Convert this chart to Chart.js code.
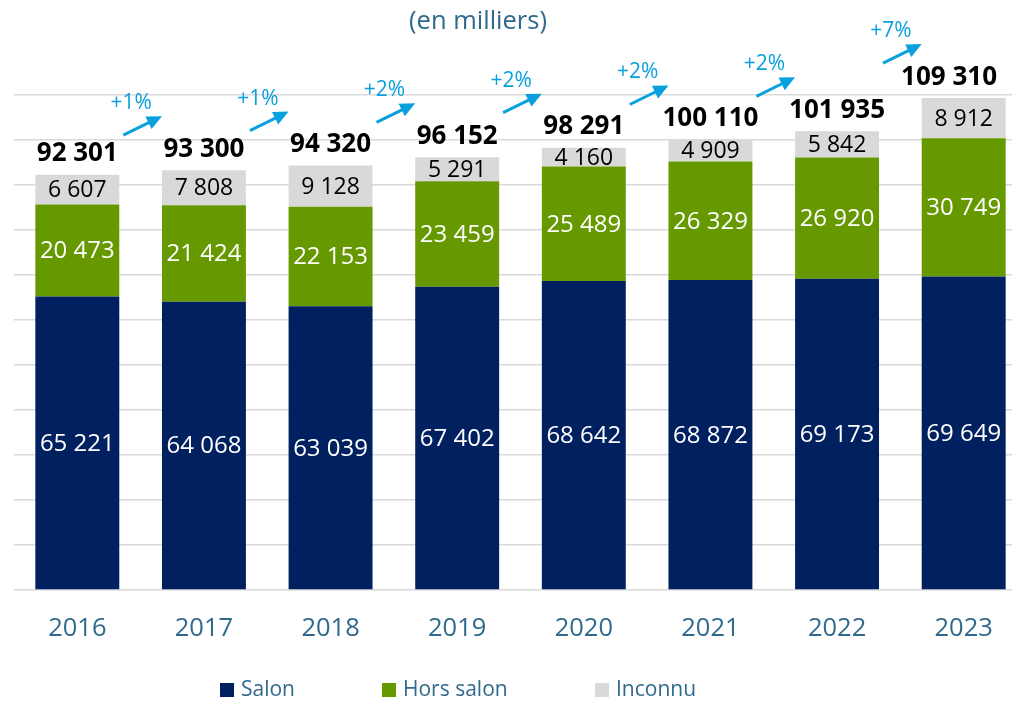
<!DOCTYPE html>
<html>
<head>
<meta charset="utf-8">
<script src="https://cdn.jsdelivr.net/npm/chart.js@4.4.1/dist/chart.umd.min.js"></script>
<style>
  html, body { margin: 0; padding: 0; background: #ffffff; overflow: hidden; }
  #wrap { width: 1027px; height: 702px; position: relative; }
</style>
</head>
<body>
<div id="wrap"><canvas id="c"></canvas></div>
<script>
// ---- Data ----
const years = ['2016', '2017', '2018', '2019', '2020', '2021', '2022', '2023'];
const salon = [65221, 64068, 63039, 67402, 68642, 68872, 69173, 69649];
const horsSalon = [20473, 21424, 22153, 23459, 25489, 26329, 26920, 30749];
const inconnu = [6607, 7808, 9128, 5291, 4160, 4909, 5842, 8912];
const totals = [92301, 93300, 94320, 96152, 98291, 100110, 101935, 109310];
const growth = ['+1%', '+1%', '+2%', '+2%', '+2%', '+2%', '+7%'];
const seriesNames = ['Salon', 'Hors salon', 'Inconnu'];
const titleText = '(en milliers)';

// ---- Styles ----
const COLORS = ['#002060', '#669900', '#d9d9d9'];
const LABEL_COLORS = ['#ffffff', '#ffffff', '#000000'];
const LABEL_SIZES = [24, 24, 23];
const TEXT_BLUE = '#2f6a8c';
const ARROW_BLUE = '#0aa0de';
const FONT = "'Open Sans', 'DejaVu Sans', sans-serif";

const fmt = n => String(n).replace(/\B(?=(\d{3})+(?!\d))/g, ' ');

const overlayPlugin = {
  id: 'overlay',
  afterDatasetsDraw(chart) {
    const ctx = chart.ctx;
    const yScale = chart.scales.y;
    ctx.save();
    ctx.textAlign = 'center';
    ctx.textBaseline = 'middle';

    // segment labels
    chart.data.datasets.forEach((ds, di) => {
      const meta = chart.getDatasetMeta(di);
      ctx.fillStyle = LABEL_COLORS[di];
      ctx.font = LABEL_SIZES[di] + "px " + FONT;
      meta.data.forEach((bar, i) => {
        const cy = (bar.y + bar.base) / 2;
        ctx.fillText(fmt(ds.data[i]), bar.x, cy + 1);
      });
    });

    // totals
    const topMeta = chart.getDatasetMeta(chart.data.datasets.length - 1);
    ctx.fillStyle = '#000000';
    ctx.font = "bold 26px " + FONT;
    const maxRight = 997;
    totals.forEach((t, i) => {
      const bar = topMeta.data[i];
      const txt = fmt(t);
      const w = ctx.measureText(txt).width;
      let cx = bar.x;
      if (cx + w / 2 > maxRight) cx = maxRight - w / 2;
      ctx.fillText(txt, cx, yScale.getPixelForValue(t) - 21);
    });

    // growth arrows
    ctx.strokeStyle = ARROW_BLUE;
    ctx.fillStyle = ARROW_BLUE;
    ctx.lineWidth = 3;
    growth.forEach((g, i) => {
      const bL = topMeta.data[i], bR = topMeta.data[i + 1];
      const x0 = bL.x + bL.width / 2 + 4;
      const x1 = bR.x - bR.width / 2;
      const tipY = yScale.getPixelForValue(totals[i + 1]) - 54;
      const y0 = tipY + 19;
      const dx = x1 - x0, dy = tipY - y0;
      const len = Math.hypot(dx, dy);
      const ux = dx / len, uy = dy / len;
      const hl = 15, hw = 7;
      const bx = x1 - ux * hl, by = tipY - uy * hl;
      ctx.beginPath();
      ctx.moveTo(x0, y0);
      ctx.lineTo(bx + ux * 2, by + uy * 2);
      ctx.stroke();
      ctx.beginPath();
      ctx.moveTo(x1, tipY);
      ctx.lineTo(bx - uy * hw, by + ux * hw);
      ctx.lineTo(bx + uy * hw, by - ux * hw);
      ctx.closePath();
      ctx.fill();
      ctx.font = "21px " + FONT;
      ctx.fillText(g, x0 + 8, tipY - 13);
    });

    // title
    ctx.fillStyle = TEXT_BLUE;
    ctx.font = "25.5px " + FONT;
    ctx.fillText(titleText, 478, 22);

    // legend
    const legendX = [220, 382, 595];
    ctx.textAlign = 'left';
    ctx.font = "21px " + FONT;
    seriesNames.forEach((name, k) => {
      ctx.fillStyle = COLORS[k];
      ctx.fillRect(legendX[k], 683, 14, 14);
      ctx.fillStyle = TEXT_BLUE;
      ctx.fillText(name, legendX[k] + 21, 690);
    });
    ctx.restore();
  }
};

const datasets = [salon, horsSalon, inconnu].map((d, k) => ({
  label: seriesNames[k],
  data: d,
  backgroundColor: COLORS[k],
  borderWidth: 0,
  barPercentage: 0.663,
  categoryPercentage: 1.0
}));

new Chart(document.getElementById('c'), {
  type: 'bar',
  data: { labels: years, datasets },
  plugins: [overlayPlugin],
  options: {
    responsive: true,
    maintainAspectRatio: false,
    animation: false,
    layout: { padding: { top: 95, left: 14, right: 0, bottom: 0 } },
    plugins: {
      legend: { display: false },
      title: { display: false },
      tooltip: { enabled: false }
    },
    scales: {
      x: {
        stacked: true,
        grid: { display: false, drawTicks: false },
        border: { display: false },
        ticks: { color: TEXT_BLUE, font: { family: FONT, size: 25.5 }, padding: 23 },
        afterFit(scale) { scale.height = 112; }
      },
      y: {
        stacked: true,
        min: 0,
        max: 110000,
        ticks: { display: false, stepSize: 10000 },
        grid: { color: '#d9d9d9', lineWidth: 1.5, drawTicks: false },
        border: { display: false },
        afterFit(scale) { scale.width = 0; }
      }
    }
  }
});
</script>
</body>
</html>
